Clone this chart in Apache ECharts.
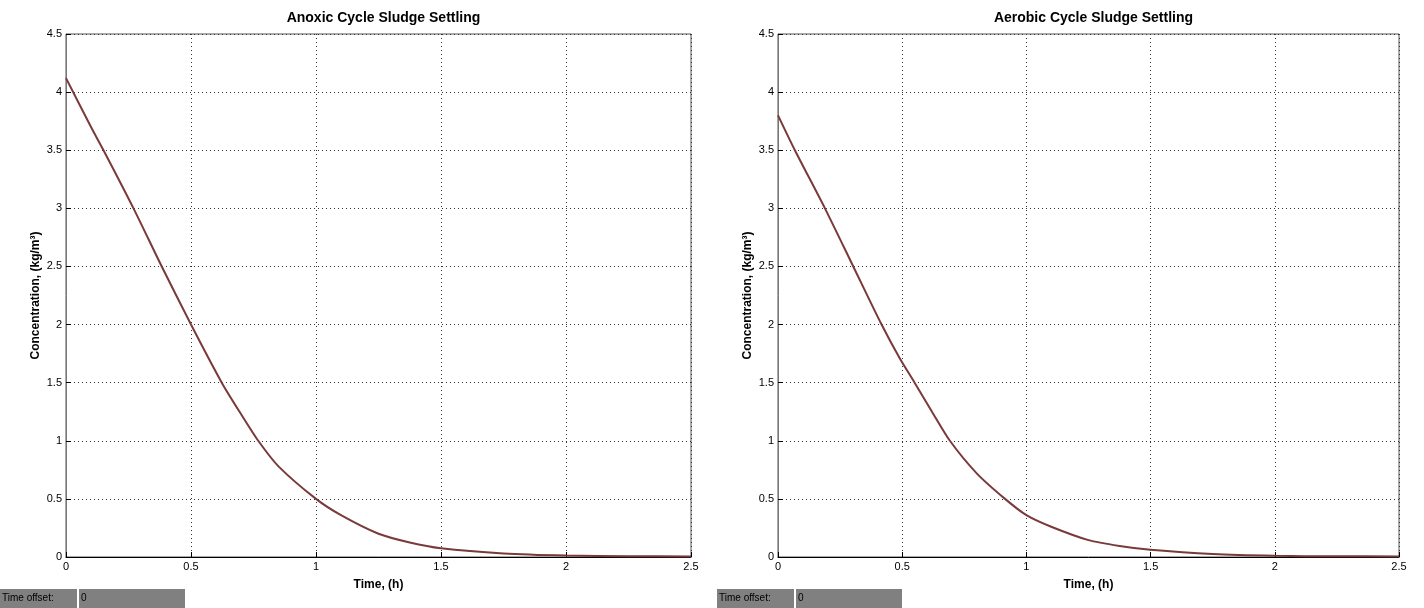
<!DOCTYPE html>
<html>
<head>
<meta charset="utf-8">
<title>Sludge Settling</title>
<script src="https://cdn.jsdelivr.net/npm/echarts@6/dist/echarts.min.js"></script>
<style>
  html, body { margin: 0; padding: 0; background: #fff; }
  #chart { width: 1424px; height: 608px; }
</style>
</head>
<body>
<div id="chart"></div>
<script>
// values
const anoxicTime = [0, 0.1, 0.15, 0.27, 0.383, 0.5, 0.623, 0.7, 0.769, 0.85, 1.0, 1.1, 1.25, 1.375, 1.5, 1.75, 2.0, 2.25, 2.5]
const anoxicConc = [4.12, 3.70, 3.5, 3.0, 2.5, 2.0, 1.5, 1.23, 1.0, 0.78, 0.5, 0.36, 0.2, 0.125, 0.075, 0.03, 0.012, 0.007, 0.005]

const aerobicTime = [0, 0.068, 0.189, 0.303, 0.417, 0.49, 0.55, 0.62, 0.692, 0.8, 0.914, 1.0, 1.1, 1.25, 1.375, 1.5, 1.75, 2.0, 2.25, 2.5]
const aerobicConc = [3.8, 3.5, 3.0, 2.5, 2.0, 1.71, 1.5, 1.25, 1.0, 0.72, 0.5, 0.36, 0.26, 0.145, 0.095, 0.062, 0.025, 0.01, 0.006, 0.005]

const titles = ['Anoxic Cycle Sludge Settling', 'Aerobic Cycle Sludge Settling']
const xName = 'Time, (h)'
const yName = 'Concentration, (kg/m³)'

const font = 'Liberation Sans, Arial, sans-serif'
const lineColor = '#7a3a3a'

const grids = [
  { left: 66, top: 34, width: 625, height: 523 },
  { left: 778, top: 34, width: 621, height: 523 }
]

const pairs = (xs, ys) => xs.map((x, i) => [x, ys[i]])

const makeX = (idx) => ({
  type: 'value',
  gridIndex: idx,
  min: 0,
  max: 2.5,
  interval: 0.5,
  name: xName,
  nameLocation: 'middle',
  nameGap: 22,
  nameTextStyle: { color: '#000', fontFamily: font, fontSize: 12, fontWeight: 'bold' },
  axisLine: { show: true, lineStyle: { color: '#000', width: 1 } },
  axisTick: { show: true, inside: true, length: 5, lineStyle: { color: '#000' } },
  axisLabel: { color: '#000', fontFamily: font, fontSize: 11, margin: 4 },
  splitLine: { show: true, lineStyle: { color: '#333', type: [1, 3], width: 1 } }
})

const makeY = (idx) => ({
  type: 'value',
  gridIndex: idx,
  min: 0,
  max: 4.5,
  interval: 0.5,
  name: yName,
  nameLocation: 'middle',
  nameRotate: 90,
  nameGap: 24,
  nameTextStyle: { color: '#000', fontFamily: font, fontSize: 12, fontWeight: 'bold' },
  axisLine: { show: true, lineStyle: { color: '#777', width: 1 } },
  axisTick: { show: true, inside: true, length: 5, lineStyle: { color: '#000' } },
  axisLabel: { color: '#000', fontFamily: font, fontSize: 11, margin: 4 },
  splitLine: { show: true, lineStyle: { color: '#333', type: [1, 3], width: 1 } }
})

const makeSeries = (idx, xs, ys) => ({
  type: 'line',
  xAxisIndex: idx,
  yAxisIndex: idx,
  data: pairs(xs, ys),
  smooth: 0.25,
  showSymbol: false,
  lineStyle: { color: lineColor, width: 2 },
  animation: false
})

const offsetBox = (x0) => [
  { type: 'rect', left: x0, top: 589, shape: { width: 77, height: 19 }, style: { fill: '#808080' } },
  { type: 'text', left: x0 + 2, top: 593, style: { text: 'Time offset:', fill: '#000', font: '10px ' + font } },
  { type: 'rect', left: x0 + 79, top: 589, shape: { width: 106, height: 19 }, style: { fill: '#808080' } },
  { type: 'text', left: x0 + 81, top: 593, style: { text: '0', fill: '#000', font: '10px ' + font } }
]

const chart = echarts.init(document.getElementById('chart'))
chart.setOption({
  animation: false,
  backgroundColor: '#fff',
  title: titles.map((t, i) => ({
    text: t,
    left: grids[i].left + grids[i].width / 2,
    textAlign: 'center',
    top: 6,
    textStyle: { color: '#000', fontFamily: font, fontSize: 14, fontWeight: 'bold' }
  })),
  grid: grids.map(g => Object.assign({ show: true, borderColor: '#555', borderWidth: 1, backgroundColor: '#fff' }, g)),
  xAxis: [makeX(0), makeX(1)],
  yAxis: [makeY(0), makeY(1)],
  series: [makeSeries(0, anoxicTime, anoxicConc), makeSeries(1, aerobicTime, aerobicConc)],
  graphic: offsetBox(0).concat(offsetBox(717))
})
</script>
</body>
</html>
